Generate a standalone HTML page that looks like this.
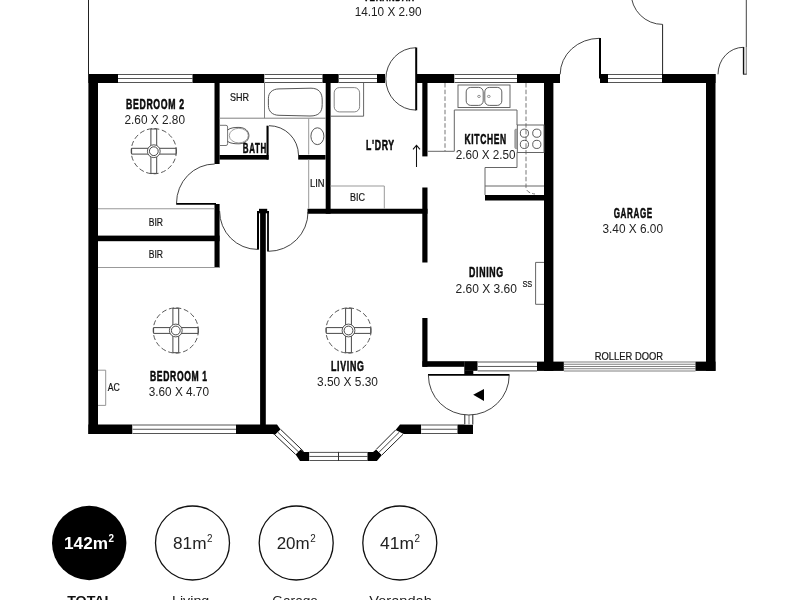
<!DOCTYPE html>
<html><head><meta charset="utf-8"><title>Floor plan</title>
<style>
html,body{margin:0;padding:0;background:#fff;}
body{width:800px;height:600px;overflow:hidden;font-family:"Liberation Sans",sans-serif;}
svg{will-change:transform;display:block;font-family:"Liberation Sans",sans-serif;}
</style></head><body>
<svg width="800" height="600" viewBox="0 0 800 600">
<rect x="0" y="0" width="800" height="600" fill="#fff"/>
<line x1="88.5" y1="0" x2="88.5" y2="74" stroke="#222" stroke-width="1" />
<line x1="746.3" y1="0" x2="746.3" y2="74.3" stroke="#444" stroke-width="1" />
<rect x="88.4" y="74" width="9.6" height="360" fill="#000"/>
<rect x="88.4" y="74" width="29.6" height="9" fill="#000"/>
<rect x="118" y="74" width="74.5" height="9" fill="#fff"/>
<line x1="118" y1="74.5" x2="192.5" y2="74.5" stroke="#555" stroke-width="1" />
<line x1="118" y1="78.5" x2="192.5" y2="78.5" stroke="#555" stroke-width="1" />
<line x1="118" y1="82.5" x2="192.5" y2="82.5" stroke="#555" stroke-width="1" />
<rect x="192.5" y="74" width="72.0" height="9" fill="#000"/>
<rect x="264.5" y="74" width="58.0" height="9" fill="#fff"/>
<line x1="264.5" y1="74.5" x2="322.5" y2="74.5" stroke="#555" stroke-width="1" />
<line x1="264.5" y1="78.5" x2="322.5" y2="78.5" stroke="#555" stroke-width="1" />
<line x1="264.5" y1="82.5" x2="322.5" y2="82.5" stroke="#555" stroke-width="1" />
<rect x="322.5" y="74" width="16.3" height="9" fill="#000"/>
<rect x="338.8" y="74" width="38.2" height="9" fill="#fff"/>
<line x1="338.8" y1="74.5" x2="377" y2="74.5" stroke="#555" stroke-width="1" />
<line x1="338.8" y1="78.5" x2="377" y2="78.5" stroke="#555" stroke-width="1" />
<line x1="338.8" y1="82.5" x2="377" y2="82.5" stroke="#555" stroke-width="1" />
<rect x="377" y="74" width="8" height="9" fill="#000"/>
<rect x="417" y="74" width="37.5" height="9" fill="#000"/>
<rect x="454.5" y="74" width="62.5" height="9" fill="#fff"/>
<line x1="454.5" y1="74.5" x2="517" y2="74.5" stroke="#555" stroke-width="1" />
<line x1="454.5" y1="78.5" x2="517" y2="78.5" stroke="#555" stroke-width="1" />
<line x1="454.5" y1="82.5" x2="517" y2="82.5" stroke="#555" stroke-width="1" />
<rect x="517" y="74" width="43" height="9" fill="#000"/>
<rect x="600" y="74" width="8" height="9" fill="#000"/>
<rect x="608" y="74" width="54" height="9" fill="#fff"/>
<line x1="608" y1="74.5" x2="662" y2="74.5" stroke="#555" stroke-width="1" />
<line x1="608" y1="78.5" x2="662" y2="78.5" stroke="#555" stroke-width="1" />
<line x1="608" y1="82.5" x2="662" y2="82.5" stroke="#555" stroke-width="1" />
<rect x="662" y="74" width="53.5" height="9" fill="#000"/>
<rect x="706" y="74" width="9.5" height="296.9" fill="#000"/>
<rect x="544" y="74" width="9.4" height="296.9" fill="#000"/>
<rect x="88.4" y="424.5" width="44.1" height="9.5" fill="#000"/>
<rect x="132.5" y="424.5" width="103.5" height="9.5" fill="#fff"/>
<line x1="132.5" y1="425.0" x2="236" y2="425.0" stroke="#555" stroke-width="1" />
<line x1="132.5" y1="429.25" x2="236" y2="429.25" stroke="#555" stroke-width="1" />
<line x1="132.5" y1="433.5" x2="236" y2="433.5" stroke="#555" stroke-width="1" />
<polygon points="236,424.5 277,424.5 280.6,429.4 275,435 273,434 236,434" fill="#000"/>
<polygon points="280.6,429.4 303.75,451.6 295.6,454.4 275,435" fill="#fff"/>
<line x1="280.6" y1="429.4" x2="303.75" y2="451.6" stroke="#222" stroke-width="1" />
<line x1="275" y1="435" x2="295.6" y2="454.4" stroke="#222" stroke-width="1" />
<line x1="277.8" y1="432.2" x2="299.675" y2="453.0" stroke="#444" stroke-width="1" />
<polygon points="300.6,449.4 303.75,451.9 309.4,451.9 309.4,461 300,461 295.6,454.4" fill="#000"/>
<rect x="309.4" y="451.9" width="58.1" height="9.1" fill="#fff"/>
<line x1="309.4" y1="452.4" x2="367.5" y2="452.4" stroke="#555" stroke-width="1" />
<line x1="309.4" y1="456.45" x2="367.5" y2="456.45" stroke="#555" stroke-width="1" />
<line x1="309.4" y1="460.5" x2="367.5" y2="460.5" stroke="#555" stroke-width="1" />
<line x1="338.5" y1="451.9" x2="338.5" y2="461" stroke="#333" stroke-width="1" />
<polygon points="367.5,451.9 373,451.9 376.25,449.4 381.9,455 376.9,461 367.5,461" fill="#000"/>
<polygon points="376.25,449.4 395.6,430 403,434.3 381.9,455" fill="#fff"/>
<line x1="376.25" y1="449.4" x2="395.6" y2="430" stroke="#222" stroke-width="1" />
<line x1="381.9" y1="455" x2="403" y2="434.3" stroke="#222" stroke-width="1" />
<line x1="379.075" y1="452.2" x2="399.3" y2="432.15" stroke="#444" stroke-width="1" />
<polygon points="400,424.5 421.25,424.5 421.25,434 403.75,434 395.6,430" fill="#000"/>
<rect x="421.25" y="424.5" width="36.25" height="9.5" fill="#fff"/>
<line x1="421.25" y1="425.0" x2="457.5" y2="425.0" stroke="#555" stroke-width="1" />
<line x1="421.25" y1="429.25" x2="457.5" y2="429.25" stroke="#555" stroke-width="1" />
<line x1="421.25" y1="433.5" x2="457.5" y2="433.5" stroke="#555" stroke-width="1" />
<rect x="457.5" y="424.5" width="15.5" height="9.5" fill="#000"/>
<rect x="464.3" y="414.5" width="9.0" height="10.0" fill="#fff"/>
<path d="M464.8 414.8 V424.5 M472.8 414.8 V424.5" stroke="#222" stroke-width="1" fill="none" />
<path d="M469 415 V424.5" stroke="#777" stroke-width="1" fill="none" />
<rect x="214.5" y="83" width="5.1" height="81" fill="#000"/>
<rect x="214.5" y="204" width="5.1" height="63.5" fill="#000"/>
<rect x="98" y="235.6" width="121.6" height="5.6" fill="#000"/>
<rect x="219.5" y="155" width="49.1" height="4.6" fill="#000"/>
<rect x="266.5" y="125.7" width="2.1" height="33.9" fill="#000"/>
<rect x="298.2" y="155" width="27.3" height="4.6" fill="#000"/>
<rect x="325.7" y="83" width="4.9" height="130.75" fill="#000"/>
<rect x="307.5" y="208.75" width="120.0" height="5.0" fill="#000"/>
<rect x="422.3" y="83" width="5.2" height="73.4" fill="#000"/>
<rect x="422.3" y="187.5" width="5.2" height="75.0" fill="#000"/>
<rect x="422.3" y="318" width="5.2" height="48.8" fill="#000"/>
<rect x="485" y="195" width="60" height="5.5" fill="#000"/>
<rect x="260.1" y="209" width="5.7" height="216" fill="#000"/>
<rect x="259" y="208.8" width="8.2" height="2.5" fill="#000"/>
<rect x="257" y="211" width="12" height="2.3" fill="#000"/>
<rect x="257" y="211" width="2" height="38.6" fill="#000"/>
<rect x="267.1" y="211" width="1.8" height="40.5" fill="#000"/>
<rect x="422.4" y="361.2" width="42.1" height="5.6" fill="#000"/>
<rect x="464.3" y="361.2" width="13.4" height="9.6" fill="#000"/>
<rect x="464.3" y="370.5" width="9.0" height="4.2" fill="#000"/>
<rect x="477.7" y="361.5" width="59.3" height="9.9" fill="#fff"/>
<line x1="477.7" y1="362.0" x2="537" y2="362.0" stroke="#555" stroke-width="1" />
<line x1="477.7" y1="366.45" x2="537" y2="366.45" stroke="#555" stroke-width="1" />
<line x1="477.7" y1="370.9" x2="537" y2="370.9" stroke="#555" stroke-width="1" />
<rect x="537" y="361.6" width="26.9" height="9.3" fill="#000"/>
<rect x="563.9" y="361.5" width="131.6" height="9.9" fill="#fff"/>
<line x1="563.9" y1="362" x2="695.5" y2="362" stroke="#808080" stroke-width="1.1" />
<line x1="563.9" y1="364.25" x2="695.5" y2="364.25" stroke="#808080" stroke-width="1.1" />
<line x1="563.9" y1="366.5" x2="695.5" y2="366.5" stroke="#808080" stroke-width="1.1" />
<line x1="563.9" y1="368.75" x2="695.5" y2="368.75" stroke="#808080" stroke-width="1.1" />
<line x1="563.9" y1="371" x2="695.5" y2="371" stroke="#808080" stroke-width="1.1" />
<rect x="695.5" y="361.6" width="20.0" height="9.3" fill="#000"/>
<line x1="176.2" y1="203.8" x2="216" y2="203.8" stroke="#000" stroke-width="1.8" />
<path d="M176.5 203.3 A38.2 39.3 0 0 1 214.7 164" stroke="#222" stroke-width="0.85" fill="none" />
<path d="M219.6 211 A37.9 38.4 0 0 0 257.5 249.4" stroke="#222" stroke-width="0.85" fill="none" />
<path d="M268.5 251.3 A39.5 39.3 0 0 0 308 212" stroke="#222" stroke-width="0.85" fill="none" />
<path d="M269 125.7 A29.5 29.5 0 0 1 298.5 155" stroke="#222" stroke-width="0.85" fill="none" />
<line x1="416.2" y1="47.5" x2="416.2" y2="110.3" stroke="#000" stroke-width="2" />
<path d="M416 47.7 A30.2 31.2 0 0 0 416 110.1" stroke="#222" stroke-width="0.85" fill="none" />
<line x1="600" y1="38" x2="600" y2="78.5" stroke="#000" stroke-width="2" />
<path d="M599.5 38.3 A39.3 36 0 0 0 560.2 74.3" stroke="#222" stroke-width="0.85" fill="none" />
<line x1="662.6" y1="24.4" x2="662.6" y2="74" stroke="#222" stroke-width="1" />
<path d="M662.6 24.4 A31.5 31.5 0 0 1 631.1 -7.1" stroke="#222" stroke-width="0.85" fill="none" />
<rect x="743.4" y="47" width="3.0" height="27.3" fill="#ddd"/>
<path d="M743.5 47 V74.3" stroke="#111" stroke-width="1.3" fill="none" />
<path d="M743 74.2 H746.6" stroke="#333" stroke-width="1" fill="none" />
<path d="M743.5 47.3 A25.5 27 0 0 0 718 74.3" stroke="#222" stroke-width="0.85" fill="none" />
<line x1="428" y1="374.8" x2="509.5" y2="374.8" stroke="#000" stroke-width="1.8" />
<path d="M428.4 375.3 A40.4 39.7 0 0 0 509.2 375.3" stroke="#222" stroke-width="0.85" fill="none" />
<polygon points="473.2,394.8 484,389 484,401" fill="#000"/>
<circle cx="153.8" cy="151.2" r="22.6" fill="none" stroke="#444" stroke-width="0.9" stroke-dasharray="5 2.6"/>
<path d="M150.9 129.0 H156.70000000000002 V173.39999999999998 H150.9 Z M131.60000000000002 148.29999999999998 V154.1 H176.0 V148.29999999999998 Z" stroke="#333" stroke-width="0.9" fill="#fff" />
<rect x="151.35" y="148.74999999999997" width="4.8999999999999995" height="4.8999999999999995" fill="#fff"/>
<circle cx="153.8" cy="151.2" r="6.4" fill="#fff" stroke="#444" stroke-width="0.9"/>
<circle cx="153.8" cy="151.2" r="4.4" fill="#fff" stroke="#333" stroke-width="0.9"/>
<circle cx="175.8" cy="330.5" r="22.6" fill="none" stroke="#444" stroke-width="0.9" stroke-dasharray="5 2.6"/>
<path d="M172.9 308.3 H178.70000000000002 V352.7 H172.9 Z M153.60000000000002 327.6 V333.4 H198.0 V327.6 Z" stroke="#333" stroke-width="0.9" fill="#fff" />
<rect x="173.35" y="328.05" width="4.8999999999999995" height="4.8999999999999995" fill="#fff"/>
<circle cx="175.8" cy="330.5" r="6.4" fill="#fff" stroke="#444" stroke-width="0.9"/>
<circle cx="175.8" cy="330.5" r="4.4" fill="#fff" stroke="#333" stroke-width="0.9"/>
<circle cx="348.5" cy="330.5" r="22.6" fill="none" stroke="#444" stroke-width="0.9" stroke-dasharray="5 2.6"/>
<path d="M345.6 308.3 H351.4 V352.7 H345.6 Z M326.3 327.6 V333.4 H370.7 V327.6 Z" stroke="#333" stroke-width="0.9" fill="#fff" />
<rect x="346.05" y="328.05" width="4.8999999999999995" height="4.8999999999999995" fill="#fff"/>
<circle cx="348.5" cy="330.5" r="6.4" fill="#fff" stroke="#444" stroke-width="0.9"/>
<circle cx="348.5" cy="330.5" r="4.4" fill="#fff" stroke="#333" stroke-width="0.9"/>
<path d="M264.5 83 V118.2 M219.6 118.2 H325.7" stroke="#808080" stroke-width="1" fill="none" />
<path d="M279 88.9 L311 88.2 C319 88.2 322.2 93 322.2 100 L322.2 104.5 C322.2 112 319 116 310 116 L279 115.3 C272 115.2 268.4 111 268.4 105.5 L268.4 98.5 C268.4 93 272 89 279 88.9 Z" stroke="#444" stroke-width="0.9" fill="none" />
<path d="M308.7 118.2 V154.5 M308.7 159.7 V208.75" stroke="#999" stroke-width="1" fill="none" />
<ellipse cx="317.4" cy="136.2" rx="6.5" ry="8.4" fill="none" stroke="#444" stroke-width="0.9"/>
<path d="M219.6 125.3 H226 Q227.6 125.3 227.6 127 V143.8 Q227.6 145.5 226 145.5 H219.6" stroke="#666" stroke-width="0.9" fill="none" />
<path d="M227.6 130 C230.5 127.6 235 127.4 239 127.4 C245 127.5 248.9 131 248.9 135.6 C248.9 140.2 245 143.7 239 143.8 C235 143.8 230.5 143.6 227.6 141.4" stroke="#444" stroke-width="0.9" fill="none" />
<ellipse cx="238.8" cy="135.6" rx="9.5" ry="7.3" fill="none" stroke="#777" stroke-width="0.7"/>
<path d="M363.6 83 V116.2 H330.5" stroke="#555" stroke-width="0.9" fill="none" />
<rect x="334.2" y="87.6" width="25.4" height="24.3" rx="5.2" fill="none" stroke="#666" stroke-width="0.8"/>
<path d="M330.5 186 H384.3 V208.75" stroke="#999" stroke-width="1" fill="none" />
<line x1="98" y1="208.75" x2="214" y2="208.75" stroke="#999" stroke-width="1" />
<line x1="98" y1="267.5" x2="220" y2="267.5" stroke="#999" stroke-width="1" />
<path d="M98 370.2 H105.7 V405.4 H98" stroke="#8a8a8a" stroke-width="0.9" fill="none" />
<path d="M544 262.4 H535.6 V304.3 H544" stroke="#555" stroke-width="0.9" fill="none" />
<path d="M445 83 V151 M526 83 V187.5 Q526.5 193 535 194" stroke="#777" stroke-width="1" fill="none" stroke-dasharray="4.5 2.2"/>
<rect x="458" y="85" width="52" height="22.5" fill="none" stroke="#555" stroke-width="0.9"/>
<rect x="466.2" y="87.4" width="17" height="18" rx="4.5" fill="none" stroke="#444" stroke-width="0.85"/>
<rect x="484.8" y="87.4" width="17" height="18" rx="4.5" fill="none" stroke="#444" stroke-width="0.85"/>
<ellipse cx="479" cy="96.4" rx="1.4" ry="1.1" fill="none" stroke="#555" stroke-width="0.6"/>
<ellipse cx="488.8" cy="96.4" rx="1.4" ry="1.1" fill="none" stroke="#555" stroke-width="0.6"/>
<path d="M427.5 151.3 H454.3 V110 H517 V125 M517 152.5 V167.5 H485 V195 M485 186 H544" stroke="#666" stroke-width="1" fill="none" />
<rect x="517.3" y="125" width="26.7" height="27.5" fill="none" stroke="#555" stroke-width="0.9"/>
<rect x="514.8" y="129.2" width="2.6" height="19.4" rx="1" fill="#aaa" stroke="#777" stroke-width="0.6"/>
<circle cx="524.4" cy="133.2" r="4.1" fill="none" stroke="#333" stroke-width="0.8"/>
<circle cx="524.4" cy="144.4" r="4.1" fill="none" stroke="#333" stroke-width="0.8"/>
<circle cx="536.8" cy="133.2" r="4.1" fill="none" stroke="#333" stroke-width="0.8"/>
<circle cx="536.8" cy="144.4" r="4.1" fill="none" stroke="#333" stroke-width="0.8"/>
<path d="M416.5 166.9 V145.6 M413 149.3 L416.5 145.3 L420 149.3" stroke="#111" stroke-width="1.05" fill="none" />
<text x="363.5" y="1.1" font-size="14.4" font-weight="bold" fill="#0a0a0a" stroke="#0a0a0a" stroke-width="0.55" stroke-linejoin="round" letter-spacing="1.1" textLength="51.3" lengthAdjust="spacingAndGlyphs">VERANDAH</text>
<text x="354.7" y="15.8" font-size="12" font-weight="normal" fill="#222" textLength="66.8" lengthAdjust="spacingAndGlyphs">14.10 X 2.90</text>
<text x="126" y="108.8" font-size="14.4" font-weight="bold" fill="#0a0a0a" stroke="#0a0a0a" stroke-width="0.55" stroke-linejoin="round" letter-spacing="1.1" textLength="58.8" lengthAdjust="spacingAndGlyphs">BEDROOM 2</text>
<text x="124.5" y="123.8" font-size="12" font-weight="normal" fill="#222" textLength="60.5" lengthAdjust="spacingAndGlyphs">2.60 X 2.80</text>
<text x="242.8" y="153.2" font-size="13.9" font-weight="bold" fill="#0a0a0a" stroke="#0a0a0a" stroke-width="0.55" stroke-linejoin="round" letter-spacing="1.1" textLength="24.0" lengthAdjust="spacingAndGlyphs">BATH</text>
<text x="366" y="150" font-size="14.4" font-weight="bold" fill="#0a0a0a" stroke="#0a0a0a" stroke-width="0.55" stroke-linejoin="round" letter-spacing="1.1" textLength="28.8" lengthAdjust="spacingAndGlyphs">L&#39;DRY</text>
<text x="464.5" y="144" font-size="14.4" font-weight="bold" fill="#0a0a0a" stroke="#0a0a0a" stroke-width="0.55" stroke-linejoin="round" letter-spacing="1.1" textLength="42.3" lengthAdjust="spacingAndGlyphs">KITCHEN</text>
<text x="455.7" y="159" font-size="12" font-weight="normal" fill="#222" textLength="59.9" lengthAdjust="spacingAndGlyphs">2.60 X 2.50</text>
<text x="469" y="277" font-size="14.4" font-weight="bold" fill="#0a0a0a" stroke="#0a0a0a" stroke-width="0.55" stroke-linejoin="round" letter-spacing="1.1" textLength="34.8" lengthAdjust="spacingAndGlyphs">DINING</text>
<text x="455.5" y="292.6" font-size="12" font-weight="normal" fill="#222" textLength="61.5" lengthAdjust="spacingAndGlyphs">2.60 X 3.60</text>
<text x="613.7" y="217.5" font-size="14.4" font-weight="bold" fill="#0a0a0a" stroke="#0a0a0a" stroke-width="0.55" stroke-linejoin="round" letter-spacing="1.1" textLength="39.1" lengthAdjust="spacingAndGlyphs">GARAGE</text>
<text x="602.5" y="233" font-size="12" font-weight="normal" fill="#222" textLength="60.5" lengthAdjust="spacingAndGlyphs">3.40 X 6.00</text>
<text x="331" y="370.5" font-size="14.4" font-weight="bold" fill="#0a0a0a" stroke="#0a0a0a" stroke-width="0.55" stroke-linejoin="round" letter-spacing="1.1" textLength="33.5" lengthAdjust="spacingAndGlyphs">LIVING</text>
<text x="317" y="386.2" font-size="12" font-weight="normal" fill="#222" textLength="61" lengthAdjust="spacingAndGlyphs">3.50 X 5.30</text>
<text x="150" y="380.5" font-size="14.4" font-weight="bold" fill="#0a0a0a" stroke="#0a0a0a" stroke-width="0.55" stroke-linejoin="round" letter-spacing="1.1" textLength="57.8" lengthAdjust="spacingAndGlyphs">BEDROOM 1</text>
<text x="148.7" y="396.2" font-size="12" font-weight="normal" fill="#222" textLength="60.3" lengthAdjust="spacingAndGlyphs">3.60 X 4.70</text>
<text x="230" y="101" font-size="10.1" fill="#151515" stroke="#151515" stroke-width="0.2" textLength="19" lengthAdjust="spacingAndGlyphs">SHR</text>
<text x="310" y="187.1" font-size="10.1" fill="#151515" stroke="#151515" stroke-width="0.2" textLength="14.6" lengthAdjust="spacingAndGlyphs">LIN</text>
<text x="350" y="201" font-size="10.1" fill="#151515" stroke="#151515" stroke-width="0.2" textLength="15" lengthAdjust="spacingAndGlyphs">BIC</text>
<text x="148.7" y="225.8" font-size="10.1" fill="#151515" stroke="#151515" stroke-width="0.2" textLength="14.3" lengthAdjust="spacingAndGlyphs">BIR</text>
<text x="148.7" y="258" font-size="10.1" fill="#151515" stroke="#151515" stroke-width="0.2" textLength="14.3" lengthAdjust="spacingAndGlyphs">BIR</text>
<text x="107.8" y="391" font-size="10.1" fill="#151515" stroke="#151515" stroke-width="0.2" textLength="12.1" lengthAdjust="spacingAndGlyphs">AC</text>
<text x="522.4" y="286.6" font-size="9.8" fill="#151515" stroke="#151515" stroke-width="0.2" textLength="9.8" lengthAdjust="spacingAndGlyphs">SS</text>
<text x="594.8" y="360" font-size="10.3" fill="#151515" stroke="#151515" stroke-width="0.2" textLength="68.2" lengthAdjust="spacingAndGlyphs">ROLLER DOOR</text>
<circle cx="89.2" cy="543" r="37.2" fill="#000"/>
<circle cx="192.5" cy="543" r="37" fill="#fff" stroke="#111" stroke-width="1.3"/>
<circle cx="296.2" cy="543" r="37" fill="#fff" stroke="#111" stroke-width="1.3"/>
<circle cx="399.8" cy="543" r="37" fill="#fff" stroke="#111" stroke-width="1.3"/>
<text x="64" y="549" font-size="15.8" font-weight="bold" fill="#fff" textLength="44.0" lengthAdjust="spacingAndGlyphs">142m</text>
<text x="108.5" y="541.8" font-size="10" font-weight="bold" fill="#fff" textLength="5.5" lengthAdjust="spacingAndGlyphs">2</text>
<text x="173" y="549" font-size="15.8" font-weight="normal" fill="#222" textLength="33.5" lengthAdjust="spacingAndGlyphs">81m</text>
<text x="207.0" y="541.8" font-size="10" font-weight="normal" fill="#222" textLength="5.5" lengthAdjust="spacingAndGlyphs">2</text>
<text x="276.7" y="549" font-size="15.8" font-weight="normal" fill="#222" textLength="33.0" lengthAdjust="spacingAndGlyphs">20m</text>
<text x="310.2" y="541.8" font-size="10" font-weight="normal" fill="#222" textLength="5.5" lengthAdjust="spacingAndGlyphs">2</text>
<text x="380" y="549" font-size="15.8" font-weight="normal" fill="#222" textLength="34.0" lengthAdjust="spacingAndGlyphs">41m</text>
<text x="414.5" y="541.8" font-size="10" font-weight="normal" fill="#222" textLength="5.5" lengthAdjust="spacingAndGlyphs">2</text>
<text x="67.2" y="605.2" font-size="13.2" font-weight="bold" fill="#111" textLength="46.1" lengthAdjust="spacingAndGlyphs">TOTAL</text>
<text x="172" y="605.2" font-size="13.2" font-weight="normal" fill="#222" textLength="37.3" lengthAdjust="spacingAndGlyphs">Living</text>
<text x="272.3" y="605.2" font-size="13.2" font-weight="normal" fill="#222" textLength="45.7" lengthAdjust="spacingAndGlyphs">Garage</text>
<text x="369.3" y="605.2" font-size="13.2" font-weight="normal" fill="#222" textLength="62.5" lengthAdjust="spacingAndGlyphs">Verandah</text>
</svg>
</body></html>
